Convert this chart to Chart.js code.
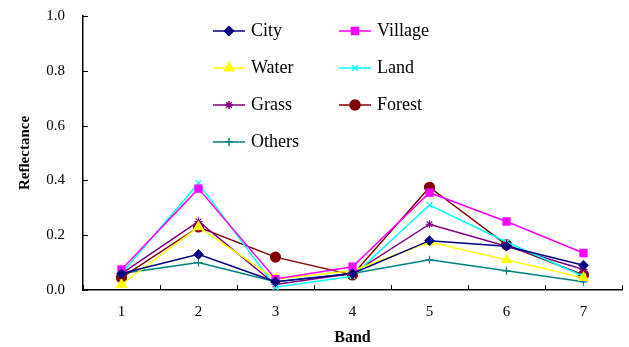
<!DOCTYPE html>
<html>
<head>
<meta charset="utf-8">
<script src="https://cdn.jsdelivr.net/npm/chart.js@4.4.0/dist/chart.umd.min.js"></script>
<style>
  body { margin: 0; background: #fff; }
  #wrap { width: 629px; height: 347px; }
</style>
</head>
<body>
<div id="wrap"><canvas id="bandChart" width="629" height="347"></canvas></div>
<script>
// band numbers on the x axis
var bands = ['1', '2', '3', '4', '5', '6', '7'];
var yTicks = [0, 0.2, 0.4, 0.6, 0.8, 1.0];

// reflectance
var city    = [0.06, 0.13, 0.03, 0.06, 0.18, 0.16, 0.09];
var village = [0.075, 0.37, 0.04, 0.085, 0.355, 0.25, 0.135];
var water   = [0.02, 0.23, 0.04, 0.07, 0.175, 0.11, 0.045];
var land    = [0.06, 0.39, 0.01, 0.05, 0.31, 0.175, 0.05];
var grass   = [0.06, 0.25, 0.02, 0.06, 0.24, 0.16, 0.075];
var forest  = [0.045, 0.23, 0.12, 0.055, 0.375, 0.165, 0.055];
var others  = [0.06, 0.10, 0.03, 0.06, 0.11, 0.07, 0.03];

var serif = '"Liberation Serif", "Times New Roman", serif';

function series(label, data, color, style, size) {
  return {
    label: label, data: data,
    borderColor: color, backgroundColor: color,
    borderWidth: 1.5, pointStyle: style, pointRadius: size,
    pointBorderWidth: 1.2, tension: 0
  };
}

var datasets = [
  series('City', city, '#000080', 'rectRot', 4.5),
  series('Village', village, '#ff00ff', 'rect', 5),
  series('Water', water, '#ffff00', 'triangle', 5.5),
  series('Land', land, '#00ffff', 'crossRot', 4),
  series('Grass', grass, '#800080', 'star', 4),
  series('Forest', forest, '#800000', 'circle', 5),
  series('Others', others, '#008080', 'cross', 4)
];

// inward ticks on both axes
var innerTicks = {
  id: 'innerTicks',
  afterDraw: function(chart) {
    var ctx = chart.ctx, x = chart.scales.x, y = chart.scales.y;
    var a = chart.chartArea;
    ctx.save();
    ctx.strokeStyle = '#000';
    ctx.lineWidth = 1;
    ctx.beginPath();
    var w = (x.getPixelForValue(1) - x.getPixelForValue(0));
    for (var i = 0; i <= bands.length; i++) {
      var px = Math.round(x.getPixelForValue(0) - w / 2 + i * w) + 0.5;
      ctx.moveTo(px, a.bottom);
      ctx.lineTo(px, a.bottom - 5);
    }
    yTicks.forEach(function(v) {
      var py = Math.round(y.getPixelForValue(v)) + 0.5;
      ctx.moveTo(a.left, py);
      ctx.lineTo(a.left + 5, py);
    });
    ctx.stroke();
    ctx.restore();
  }
};

// two column legend inside the plot
var boxLegend = {
  id: 'boxLegend',
  afterDraw: function(chart) {
    var ctx = chart.ctx;
    ctx.save();
    ctx.font = '18px ' + serif;
    ctx.textBaseline = 'middle';
    ctx.fillStyle = '#000';
    chart.data.datasets.forEach(function(ds, i) {
      var col = i % 2, row = Math.floor(i / 2);
      var x0 = 213 + col * 126, yy = 31 + row * 37;
      ctx.strokeStyle = ds.borderColor;
      ctx.lineWidth = 1.5;
      ctx.beginPath();
      ctx.moveTo(x0, yy);
      ctx.lineTo(x0 + 32, yy);
      ctx.stroke();
      Chart.helpers.drawPoint(ctx, {
        pointStyle: ds.pointStyle, radius: ds.pointRadius, borderWidth: 1.2
      }, x0 + 16, yy);
      ctx.fillStyle = ds.backgroundColor;
      ctx.fill();
      ctx.fillStyle = '#000';
      ctx.fillText(ds.label, x0 + 38, yy);
    });
    ctx.restore();
  }
};

new Chart(document.getElementById('bandChart'), {
  type: 'line',
  data: { labels: bands, datasets: datasets },
  options: {
    responsive: false,
    animation: false,
    layout: { padding: { top: 16, right: 7, left: 12, bottom: 0 } },
    plugins: { legend: { display: false }, tooltip: { enabled: false } },
    scales: {
      x: {
        offset: true,
        grid: { display: true, drawOnChartArea: false, drawTicks: false, color: '#000' },
        border: { color: '#000', width: 1.5 },
        ticks: { color: '#000', font: { family: serif, size: 15 }, padding: 13 },
        title: { display: true, text: 'Band', color: '#000', font: { family: serif, size: 16, weight: 'bold' }, padding: { top: 0, bottom: 0 } },
        afterFit: function(s) { s.height = 57; }
      },
      y: {
        min: 0, max: 1,
        afterBuildTicks: function(s) { s.ticks = yTicks.map(function(v) { return { value: v }; }); },
        grid: { drawOnChartArea: false, drawTicks: false },
        border: { color: '#000', width: 1.5 },
        ticks: {
          color: '#000', font: { family: serif, size: 15 }, padding: 18,
          callback: function(v) { return v.toFixed(1); }
        },
        title: { display: true, text: 'Reflectance', color: '#000', font: { family: serif, size: 15, weight: 'bold' } },
        afterFit: function(s) { s.width = 71; s.paddingTop = 0; s.paddingBottom = 0; }
      }
    }
  },
  plugins: [innerTicks, boxLegend]
});
</script>
</body>
</html>
